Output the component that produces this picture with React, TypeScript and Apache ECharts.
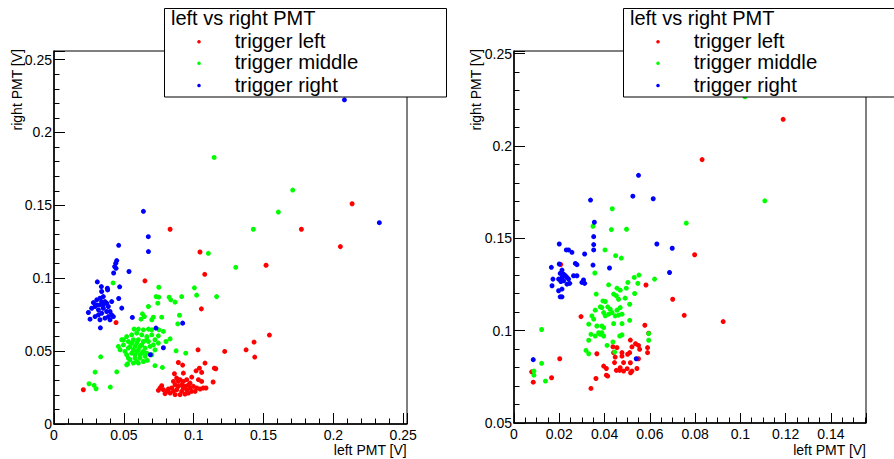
import React, { useEffect, useRef } from "react";
import * as echarts from "echarts";

const FONT = '"Liberation Sans", Arial, Helvetica, sans-serif';

const seriesNames = ["trigger left", "trigger middle", "trigger right"];
const seriesColors = ["#ff0000", "#00ff00", "#0000ff"];
const legendTitle = "left vs right PMT";
const xTitle = "left PMT [V]";
const yTitle = "right PMT [V]";

// ---- left panel ----
const leftRed: number[][] = [
  [0.2134, 0.1511], [0.0831, 0.1336], [0.1771, 0.1336], [0.205, 0.1217], [0.1045, 0.118],
  [0.1518, 0.1089], [0.1079, 0.1027], [0.0651, 0.0982], [0.0444, 0.0696], [0.1055, 0.079],
  [0.1542, 0.061], [0.1432, 0.0562], [0.1375, 0.0509], [0.1437, 0.0459], [0.1222, 0.0498],
  [0.1031, 0.0509], [0.021, 0.0235],
  [0.089, 0.0422], [0.0921, 0.0404], [0.1081, 0.0418], [0.1041, 0.0383], [0.1017, 0.0365],
  [0.1057, 0.0354], [0.1148, 0.0383], [0.1158, 0.0379], [0.0862, 0.0345], [0.0926, 0.0349],
  [0.0986, 0.0322], [0.1034, 0.0304], [0.1057, 0.0292], [0.1139, 0.0288],
  [0.0878, 0.0315], [0.0902, 0.0304], [0.0926, 0.0292], [0.095, 0.0304], [0.0914, 0.0269],
  [0.0938, 0.0258], [0.0962, 0.0269], [0.089, 0.0258], [0.0867, 0.0269], [0.0843, 0.0247],
  [0.0878, 0.0235], [0.0914, 0.0224], [0.095, 0.0235], [0.0974, 0.0247], [0.0998, 0.0258],
  [0.0986, 0.0224], [0.0831, 0.0212], [0.0867, 0.0201], [0.0902, 0.0201], [0.0938, 0.0206],
  [0.0962, 0.0212], [0.101, 0.0224], [0.0783, 0.0235], [0.0807, 0.0224], [0.0759, 0.0247],
  [0.0771, 0.0263], [0.0747, 0.0231], [0.0795, 0.0208], [0.0819, 0.024], [0.0855, 0.0224],
  [0.1022, 0.0247], [0.1046, 0.024], [0.1069, 0.0247], [0.1088, 0.0247], [0.089, 0.0292],
  [0.0926, 0.0247], [0.0855, 0.0292], [0.0974, 0.0281],
];

const leftGreen: number[][] = [
  [0.1146, 0.1829], [0.1709, 0.1605], [0.1606, 0.1454], [0.1427, 0.1336], [0.1105, 0.1171],
  [0.1301, 0.1075], [0.1005, 0.0934], [0.1021, 0.0884], [0.1164, 0.0874],
  [0.0423, 0.0968], [0.075, 0.0938], [0.0731, 0.0874], [0.075, 0.087], [0.0743, 0.0829],
  [0.0824, 0.087], [0.0836, 0.0852], [0.0867, 0.0836], [0.0914, 0.0874], [0.0676, 0.0806],
  [0.0633, 0.0756], [0.0623, 0.0719], [0.0647, 0.0737], [0.07, 0.0715], [0.0711, 0.0733],
  [0.0771, 0.0733], [0.0898, 0.0746], [0.0886, 0.0687], [0.0573, 0.0651], [0.0604, 0.0651],
  [0.064, 0.0646], [0.0676, 0.0651], [0.07, 0.0646], [0.0752, 0.0646], [0.0783, 0.0635],
  [0.0747, 0.0605], [0.0831, 0.0584], [0.0802, 0.0566],
  [0.0485, 0.0578], [0.052, 0.06], [0.0556, 0.0612], [0.0592, 0.0623], [0.0628, 0.0612],
  [0.0664, 0.06], [0.07, 0.0612], [0.0723, 0.0578], [0.0461, 0.0532], [0.0497, 0.0543],
  [0.0532, 0.0566], [0.0568, 0.0578], [0.0604, 0.0578], [0.064, 0.0566], [0.0676, 0.0566],
  [0.0711, 0.0543], [0.0747, 0.0555], [0.0473, 0.0509], [0.0508, 0.0498], [0.0544, 0.0532],
  [0.058, 0.0532], [0.0616, 0.0532], [0.0652, 0.0521], [0.0688, 0.0532], [0.0723, 0.0509],
  [0.052, 0.0475], [0.0556, 0.0486], [0.0592, 0.0498], [0.0628, 0.0486], [0.0664, 0.0486],
  [0.07, 0.0475], [0.0544, 0.0441], [0.058, 0.0452], [0.0616, 0.0452], [0.0652, 0.0464],
  [0.0568, 0.0418], [0.0604, 0.0418], [0.052, 0.0406], [0.064, 0.0429],
  [0.0556, 0.0555], [0.0592, 0.0555], [0.0628, 0.0543], [0.0568, 0.0509], [0.0604, 0.0509],
  [0.064, 0.0498], [0.0532, 0.0521], [0.0497, 0.0578], [0.0664, 0.0578], [0.058, 0.0475],
  [0.0616, 0.0475], [0.0532, 0.0452], [0.0592, 0.0429],
  [0.0943, 0.0486], [0.0874, 0.0502], [0.0776, 0.0388], [0.0723, 0.04], [0.0334, 0.0461],
  [0.0294, 0.0356], [0.0449, 0.0358], [0.0251, 0.0276], [0.0287, 0.0265], [0.0301, 0.0242],
  [0.0403, 0.0253], [0.0668, 0.0436], [0.0527, 0.0413],
];

const leftBlue: number[][] = [
  [0.2079, 0.2224], [0.064, 0.1459], [0.2329, 0.1381], [0.0675, 0.1285], [0.0676, 0.1183],
  [0.0463, 0.1226], [0.0449, 0.1121], [0.0442, 0.1103], [0.0434, 0.108], [0.0427, 0.1036],
  [0.0444, 0.1068], [0.0537, 0.1046], [0.031, 0.0975], [0.047, 0.0941], [0.0339, 0.0943],
  [0.0382, 0.0932], [0.0341, 0.0909], [0.0384, 0.092],
  [0.0282, 0.0833], [0.0306, 0.0852], [0.0329, 0.0863], [0.0353, 0.0874], [0.0365, 0.084],
  [0.0329, 0.0817], [0.0294, 0.0806], [0.0318, 0.0783], [0.0353, 0.0794], [0.0389, 0.0806],
  [0.0413, 0.084], [0.0341, 0.076], [0.0377, 0.0772], [0.0413, 0.0749], [0.0246, 0.0765],
  [0.0258, 0.0719], [0.0294, 0.0737], [0.0329, 0.0715], [0.0365, 0.0726], [0.0401, 0.0715],
  [0.0425, 0.0737], [0.0306, 0.0817], [0.0341, 0.084], [0.0377, 0.0829], [0.0353, 0.0817],
  [0.0318, 0.0749], [0.0389, 0.0737], [0.027, 0.0794], [0.0401, 0.0772],
  [0.0463, 0.0861], [0.0485, 0.0795], [0.0561, 0.0731], [0.0332, 0.066], [0.073, 0.0658],
  [0.0921, 0.0692], [0.0783, 0.0523], [0.069, 0.0475],
];

// ---- right panel ----
const rightRed: number[][] = [
  [0.1189, 0.2144], [0.0831, 0.1926], [0.0798, 0.1411], [0.0924, 0.1049], [0.0206, 0.1358],
  [0.0202, 0.0848], [0.0078, 0.0777], [0.0085, 0.0721], [0.0166, 0.0745],
  [0.0583, 0.1247], [0.0701, 0.117], [0.0752, 0.1083], [0.0296, 0.1076], [0.0578, 0.1029],
  [0.0595, 0.0986], [0.0514, 0.0949], [0.0537, 0.0929], [0.055, 0.092], [0.0555, 0.0899],
  [0.059, 0.0908], [0.059, 0.0881], [0.0521, 0.0912], [0.0437, 0.0913], [0.0455, 0.0908],
  [0.044, 0.0881], [0.0447, 0.0857], [0.0444, 0.0827], [0.0477, 0.0881], [0.0477, 0.0862],
  [0.0502, 0.0872], [0.0511, 0.0881], [0.0514, 0.0826], [0.0521, 0.0781], [0.0484, 0.0781],
  [0.0467, 0.0785], [0.0452, 0.0785], [0.0469, 0.0799], [0.0543, 0.0795], [0.055, 0.0848],
  [0.0396, 0.0808], [0.0408, 0.0795], [0.0408, 0.0759], [0.0414, 0.0754], [0.0366, 0.0875],
  [0.0362, 0.0741], [0.034, 0.0687], [0.0484, 0.0827], [0.05, 0.0794], [0.0515, 0.0772],
];

const rightGreen: number[][] = [
  [0.102, 0.2266], [0.1108, 0.1703], [0.0434, 0.166], [0.0349, 0.1565], [0.0761, 0.1582],
  [0.043, 0.1547], [0.0497, 0.1549],
  [0.0402, 0.1437], [0.0449, 0.1406], [0.0474, 0.1393], [0.0357, 0.1312], [0.0531, 0.1288],
  [0.0552, 0.1301], [0.0621, 0.1279],
  [0.0122, 0.1006], [0.0122, 0.0823], [0.0088, 0.0781], [0.0088, 0.0759], [0.0139, 0.0727],
  [0.0418, 0.1248], [0.0455, 0.123], [0.0503, 0.1261], [0.0547, 0.1256], [0.0496, 0.123],
  [0.0469, 0.1219], [0.044, 0.1198], [0.0452, 0.1189], [0.0363, 0.1198], [0.0393, 0.1161],
  [0.0403, 0.1158], [0.0462, 0.117], [0.0491, 0.1176], [0.0533, 0.1201], [0.0511, 0.1143],
  [0.0388, 0.1125], [0.0381, 0.1129], [0.0414, 0.1129], [0.0425, 0.1116], [0.0359, 0.1111],
  [0.0396, 0.1098], [0.0403, 0.108], [0.0418, 0.1089], [0.0433, 0.1098], [0.0455, 0.1111],
  [0.0469, 0.1125], [0.0477, 0.1089], [0.0447, 0.108], [0.0462, 0.1084], [0.0344, 0.108],
  [0.0352, 0.1062], [0.033, 0.1035], [0.044, 0.1038], [0.0477, 0.1038], [0.0511, 0.1056],
  [0.0366, 0.1025], [0.0388, 0.1025], [0.0396, 0.1016], [0.0374, 0.0989], [0.0388, 0.0989],
  [0.034, 0.098], [0.0359, 0.0971], [0.0381, 0.098], [0.0396, 0.0971], [0.0467, 0.0971],
  [0.0477, 0.0977], [0.0595, 0.0984], [0.0595, 0.0948], [0.0437, 0.0939], [0.0411, 0.092],
  [0.033, 0.0948], [0.0318, 0.0893], [0.033, 0.0875], [0.0445, 0.0884],
];

const rightBlue: number[][] = [
  [0.055, 0.1841], [0.0525, 0.1728], [0.0615, 0.1714], [0.0338, 0.1707],
  [0.0631, 0.1469], [0.0699, 0.1446], [0.0687, 0.1315], [0.0085, 0.0843], [0.054, 0.0848],
  [0.0355, 0.1587], [0.0352, 0.1509], [0.0352, 0.1466], [0.0352, 0.1437], [0.02, 0.1469],
  [0.0231, 0.1437], [0.0241, 0.1437], [0.0256, 0.1424], [0.0312, 0.1415], [0.0271, 0.1364],
  [0.0278, 0.1357], [0.02, 0.1361], [0.0212, 0.1328], [0.0204, 0.131], [0.0349, 0.1355],
  [0.0422, 0.1339], [0.0219, 0.1306], [0.0227, 0.1297], [0.0212, 0.1288], [0.0234, 0.1288],
  [0.0197, 0.1279], [0.0172, 0.1279], [0.0168, 0.1243], [0.0241, 0.1279], [0.0246, 0.1256],
  [0.0263, 0.1297], [0.0278, 0.1297], [0.0207, 0.1266], [0.0219, 0.127], [0.0234, 0.1252],
  [0.0212, 0.1225], [0.0197, 0.1216], [0.0204, 0.1183], [0.0212, 0.1183], [0.03, 0.1261],
  [0.0312, 0.1256], [0.0307, 0.1274], [0.0165, 0.1343],
];

const fmt = (step: number) => (v: number) => {
  const k = v / step;
  return Math.abs(k - Math.round(k)) < 1e-6 ? String(+v.toFixed(4)) : "";
};

function valueAxis(gridIndex: number, min: number, max: number, interval: number, minorSplit: number, isX: boolean, tickLen: number) {
  return {
    type: "value",
    gridIndex,
    min,
    max,
    interval,
    axisLine: { show: true, onZero: false, lineStyle: { color: "#000", width: 1.5 } },
    axisTick: { show: true, inside: true, length: tickLen, lineStyle: { color: "#000", width: 1 } },
    minorTick: { show: true, splitNumber: minorSplit, length: 5.5, lineStyle: { color: "#000", width: 1 } },
    splitLine: { show: false },
    minorSplitLine: { show: false },
    axisLabel: {
      margin: isX ? 4 : 2,
      fontSize: 14,
      fontFamily: FONT,
      color: "#000",
      formatter: fmt(interval),
    },
  };
}

function legendGraphics(boxX: number) {
  const items: any[] = [
    {
      type: "rect",
      z: 100,
      shape: { x: boxX + 0.5, y: 8.5, width: 282, height: 88.5 },
      style: { fill: "#fff", stroke: "#000", lineWidth: 1 },
    },
    {
      type: "text",
      z: 101,
      x: boxX + 7,
      y: 18,
      style: { text: legendTitle, fontSize: 20, fontFamily: FONT, fill: "#000", align: "left", verticalAlign: "middle" },
    },
  ];
  const rowsText = [40.5, 62, 84.5];
  const rowsDot = [41.7, 63.2, 85.5];
  seriesNames.forEach((n, i) => {
    items.push({
      type: "circle",
      z: 101,
      shape: { cx: boxX + 35, cy: rowsDot[i], r: 1.8 },
      style: { fill: seriesColors[i] },
    });
    items.push({
      type: "text",
      z: 101,
      x: boxX + 70.7,
      y: rowsText[i],
      style: { text: n, fontSize: 20.4, fontFamily: FONT, fill: "#000", align: "left", verticalAlign: "middle" },
    });
  });
  return items;
}

function titleGraphics(yTitleX: number, xTitleRight: number) {
  return [
    {
      type: "text",
      z: 50,
      x: yTitleX,
      y: 49,
      rotation: Math.PI / 2,
      style: { text: yTitle, fontSize: 14, fontFamily: FONT, fill: "#000", align: "right", verticalAlign: "middle" },
    },
    {
      type: "text",
      z: 50,
      x: xTitleRight,
      y: 450,
      style: { text: xTitle, fontSize: 14, fontFamily: FONT, fill: "#000", align: "right", verticalAlign: "middle" },
    },
  ];
}

export default function App() {
  const ref = useRef<HTMLDivElement>(null);
  useEffect(() => {
    if (!ref.current) return;
    const chart = echarts.init(ref.current, undefined, { renderer: "svg" });
    const datasets = [leftRed, leftGreen, leftBlue, rightRed, rightGreen, rightBlue];
    const series = datasets.map((d, i) => ({
      type: "scatter",
      name: seriesNames[i % 3],
      xAxisIndex: i < 3 ? 0 : 1,
      yAxisIndex: i < 3 ? 0 : 1,
      data: d,
      symbol: "circle",
      symbolSize: 5,
      itemStyle: { color: seriesColors[i % 3], opacity: 1 },
      z: 2 + (i % 3),
      silent: true,
    }));
    chart.setOption({
      animation: false,
      backgroundColor: "#fff",
      textStyle: { fontFamily: FONT },
      grid: [
        { left: 54, top: 51, width: 353, height: 373, show: true, borderColor: "#000", borderWidth: 1, backgroundColor: "transparent" },
        { left: 514, top: 51, width: 352, height: 372, show: true, borderColor: "#000", borderWidth: 1, backgroundColor: "transparent" },
      ],
      xAxis: [
        valueAxis(0, 0, 0.2527, 0.05, 5, true, 11),
        valueAxis(1, 0, 0.1555, 0.02, 4, true, 10),
      ],
      yAxis: [
        valueAxis(0, 0, 0.2559, 0.05, 5, false, 11),
        valueAxis(1, 0.05, 0.2514, 0.05, 5, false, 11),
      ],
      series,
      graphic: [
        ...titleGraphics(17, 406.7),
        ...titleGraphics(476, 866),
        ...legendGraphics(164),
        ...legendGraphics(623),
      ],
    });
    return () => chart.dispose();
  }, []);
  return (
    <div
      ref={ref}
      style={{ position: "fixed", left: 0, top: 0, width: 894, height: 459, background: "#fff" }}
    />
  );
}
